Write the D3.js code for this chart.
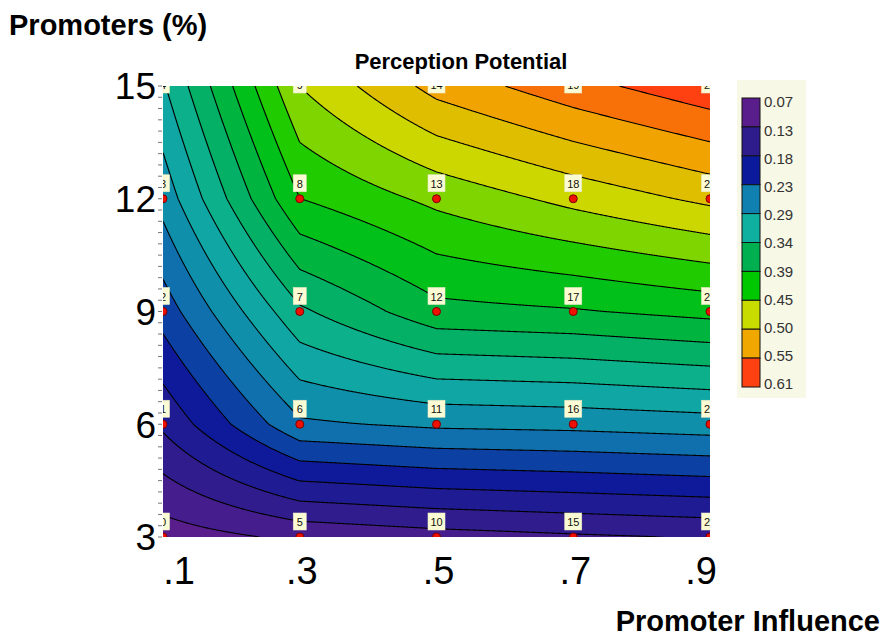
<!DOCTYPE html>
<html><head><meta charset="utf-8">
<script src="https://cdn.jsdelivr.net/npm/d3@7"></script>
<style>body{margin:0;background:#fff}</style>
</head><body>
<svg id="c" width="883" height="639"></svg>
<script>
// ---- data ----
const influence = [0.1, 0.3, 0.5, 0.7, 0.9];
const promoters = [3, 6, 9, 12, 15];
const xTickLabels = [".1", ".3", ".5", ".7", ".9"];
const yTickLabels = ["3", "6", "9", "12", "15"];
// perception potential at each influence (columns), listed for promoters 3,6,9,12,15
const potInf1 = [0.085, 0.158, 0.218, 0.270, 0.310];
const potInf3 = [0.105, 0.255, 0.335, 0.420, 0.474];
const potInf5 = [0.115, 0.265, 0.385, 0.454, 0.537];
const potInf7 = [0.122, 0.268, 0.391, 0.482, 0.571];
const potInf9 = [0.128, 0.274, 0.402, 0.507, 0.600];
const legendLabels = ["0.07","0.13","0.18","0.23","0.29","0.34","0.39","0.45","0.50","0.55","0.61"];
const legendColors = ["#5a1d8c","#2e1c8c","#0a1a9a","#1080b0","#10b0a0","#00b050","#00c800","#c8dc00","#f0a800","#ff4010"];
const levelMin = 0.0725, levelMax = 0.6075, levelCount = 20;
const title = "Perception Potential";
const xTitle = "Promoter Influence";
const yTitle = "Promoters (%)";

const pot = [potInf1, potInf3, potInf5, potInf7, potInf9];

// ---- layout ----
const svg = d3.select("#c");
const X0 = 163, X1 = 710, Y0 = 86, Y1 = 537;
const xs = d3.scaleLinear().domain([0.1, 0.9]).range([X0, X1]);
const ys = d3.scaleLinear().domain([3, 15]).range([Y1, Y0]);
const font = "Liberation Sans, Arial, sans-serif";

svg.append("rect").attr("width", 883).attr("height", 639).attr("fill", "#fff");

svg.append("defs").append("clipPath").attr("id", "plotclip")
  .append("rect").attr("x", X0).attr("y", Y0).attr("width", X1 - X0).attr("height", Y1 - Y0);

// grid field (bilinear between the read values) for the contour generator
const pad = 3;
const gx0 = X0 - pad, gy0 = Y0 - pad;
const nx = Math.round(X1 - X0 + 2 * pad), ny = Math.round(Y1 - Y0 + 2 * pad);
const field = new Float64Array(nx * ny);
const cl = (v, a, b) => Math.max(a, Math.min(b, v));
const xi = d3.scaleLinear().domain(influence).range(d3.range(influence.length));
const yi = d3.scaleLinear().domain(promoters).range(d3.range(promoters.length));
for (let r = 0; r < ny; r++) {
  const fj = cl(yi(ys.invert(gy0 + r + 0.5)), 0, promoters.length - 1);
  const j0 = Math.min(Math.floor(fj), promoters.length - 2), tj = fj - j0;
  for (let c = 0; c < nx; c++) {
    const fi = cl(xi(xs.invert(gx0 + c + 0.5)), 0, influence.length - 1);
    const i0 = Math.min(Math.floor(fi), influence.length - 2), ti = fi - i0;
    const v = pot[i0][j0] * (1 - ti) * (1 - tj) + pot[i0 + 1][j0] * ti * (1 - tj)
            + pot[i0][j0 + 1] * (1 - ti) * tj + pot[i0 + 1][j0 + 1] * ti * tj;
    field[r * nx + c] = v;
  }
}
const step = (levelMax - levelMin) / levelCount;
const thresholds = d3.range(1, levelCount).map(k => levelMin + k * step);
const bandColor = d3.piecewise(d3.interpolateRgb, legendColors);
const contours = d3.contours().size([nx, ny]).thresholds(thresholds)(field);
const path = d3.geoPath(d3.geoIdentity().translate([gx0, gy0]));

const plot = svg.append("g").attr("clip-path", "url(#plotclip)");
plot.append("rect").attr("x", X0).attr("y", Y0).attr("width", X1 - X0).attr("height", Y1 - Y0)
  .attr("fill", bandColor(0));
plot.selectAll("path.band").data(contours).join("path").attr("class", "band")
  .attr("d", path)
  .attr("fill", (d, k) => bandColor((k + 1) / (levelCount - 1)));
plot.selectAll("path.line").data(contours).join("path").attr("class", "line")
  .attr("d", path).attr("fill", "none").attr("stroke", "#000").attr("stroke-width", 1.1);

// points and labels
const pts = [];
influence.forEach((x, i) => promoters.forEach((y, j) => pts.push({x, y, id: i * promoters.length + j})));
plot.selectAll("circle.pt").data(pts).join("circle").attr("class", "pt")
  .attr("cx", d => xs(d.x)).attr("cy", d => ys(d.y)).attr("r", 4)
  .attr("fill", "#f01000").attr("stroke", "#7a0000").attr("stroke-width", 1);
const lab = plot.selectAll("g.lab").data(pts).join("g").attr("class", "lab")
  .attr("transform", d => `translate(${xs(d.x)},${Math.max(ys(d.y) - 7, Y0 + 7)})`);
lab.append("rect")
  .attr("x", d => String(d.id).length > 1 ? -8.5 : -6.5).attr("y", -17)
  .attr("width", d => String(d.id).length > 1 ? 17 : 13).attr("height", 17)
  .attr("fill", "#fcfcd4").attr("stroke", "#e8e8c8").attr("stroke-width", 0.6);
lab.append("text").attr("y", -4).attr("text-anchor", "middle")
  .attr("font-family", font).attr("font-size", 11).attr("fill", "#111").text(d => d.id);

// y minor ticks
svg.append("g").selectAll("line").data(d3.range(0, 41).map(k => 3 + k * 0.3)).join("line")
  .attr("x1", X0 - 5).attr("x2", X0 - 1).attr("y1", d => ys(d)).attr("y2", d => ys(d))
  .attr("stroke", "#777").attr("stroke-width", 1);

// axis tick labels
svg.append("g").selectAll("text").data(promoters).join("text")
  .attr("x", X0 - 7).attr("y", d => ys(d)).attr("dy", "0.36em").attr("text-anchor", "end")
  .attr("font-family", font).attr("font-size", 37).attr("fill", "#000")
  .text((d, i) => yTickLabels[i]);
svg.append("g").selectAll("text").data(influence).join("text")
  .attr("x", (d, i) => xs(d) + (i === 0 ? 16 : i === influence.length - 1 ? -9 : 2))
  .attr("y", 584).attr("text-anchor", "middle")
  .attr("font-family", font).attr("font-size", 38).attr("fill", "#000")
  .text((d, i) => xTickLabels[i]);

// titles
svg.append("text").attr("x", 461).attr("y", 69).attr("text-anchor", "middle")
  .attr("font-family", font).attr("font-weight", "bold").attr("font-size", 22).text(title);
svg.append("text").attr("x", 9).attr("y", 35)
  .attr("font-family", font).attr("font-weight", "bold").attr("font-size", 29).text(yTitle);
svg.append("text").attr("x", 880).attr("y", 631).attr("text-anchor", "end")
  .attr("font-family", font).attr("font-weight", "bold").attr("font-size", 29).text(xTitle);

// legend
const lg = svg.append("g");
lg.append("rect").attr("x", 737).attr("y", 80).attr("width", 69).attr("height", 318).attr("fill", "#f8f8e6");
const sw = d3.scaleLinear().domain([0, legendColors.length]).range([98, 387]);
lg.selectAll("rect.sw").data(legendColors).join("rect").attr("class", "sw")
  .attr("x", 742).attr("y", (d, i) => sw(i)).attr("width", 18).attr("height", sw(1) - sw(0))
  .attr("fill", d => d).attr("stroke", "#111").attr("stroke-width", 1);
const ll = d3.scaleLinear().domain([0, legendLabels.length - 1]).range([102, 384]);
lg.selectAll("text").data(legendLabels).join("text")
  .attr("x", 764).attr("y", (d, i) => ll(i)).attr("dy", "0.36em")
  .attr("font-family", font).attr("font-size", 15).attr("fill", "#333").text(d => d);
</script>
</body></html>
